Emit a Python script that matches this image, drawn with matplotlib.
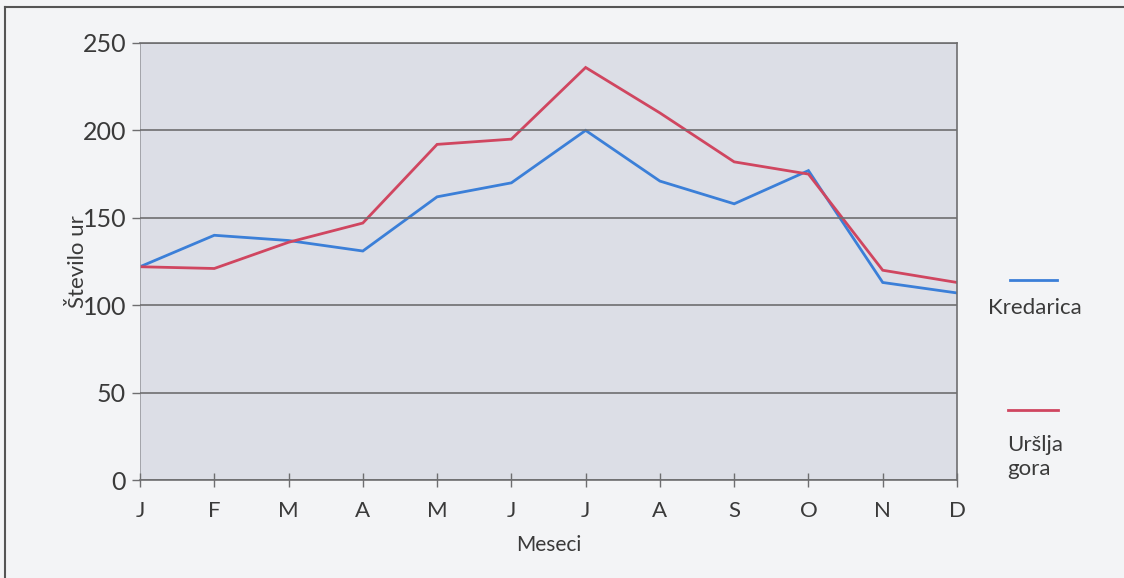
import matplotlib
matplotlib.use("Agg")
import matplotlib.pyplot as plt
from matplotlib.lines import Line2D

months = ["J", "F", "M", "A", "M", "J", "J", "A", "S", "O", "N", "D"]
kredarica = [122, 140, 137, 131, 162, 170, 200, 171, 158, 177, 113, 107]
ursljagora = [122, 121, 136, 147, 192, 195, 236, 210, 182, 175, 120, 113]
yticks = [0, 50, 100, 150, 200, 250]

plt.rcParams['font.family'] = ['Lato', 'DejaVu Sans']
txt = '#3a3a3a'

fig = plt.figure(figsize=(11.24, 5.78), dpi=100)
fig.patch.set_facecolor('#f3f4f6')
ax = fig.add_axes([140/1124, 1 - 480/578, (957-140)/1124, (480-43)/578])
ax.set_facecolor('#dcdee6')

x = list(range(len(months)))
ax.plot(x, kredarica, color='#3b7fd8', lw=2.0, solid_joinstyle='miter')
ax.plot(x, ursljagora, color='#d04660', lw=2.0, solid_joinstyle='miter')

ax.set_xlim(0, 11)
ax.set_ylim(0, 250)
ax.set_yticks(yticks)
ax.set_yticklabels([str(v) for v in yticks], fontsize=18, color=txt)
ax.set_xticks(x)
ax.set_xticklabels(months, fontsize=16, color=txt)
ax.yaxis.grid(True, color='#6e6e70', lw=1.2)
ax.set_axisbelow(False)
ax.tick_params(axis='y', length=6, width=1, color='#6e6e70', pad=4)
ax.tick_params(axis='x', direction='inout', length=10, width=1, color='#6e6e70', pad=10)
for s in ['left', 'right', 'top', 'bottom']:
    ax.spines[s].set_color('#6e6e70')
    ax.spines[s].set_linewidth(1.2)
ax.spines['left'].set_linewidth(0.6)
ax.spines['left'].set_color('#9a9aa0')

ax.set_xlabel('Meseci', fontsize=15, color=txt, labelpad=10)
ax.set_ylabel('Število ur', fontsize=16, color=txt, labelpad=-4)

# legend drawn beside the plot
fig.add_artist(Line2D([1010/1124, 1057/1124], [1 - 280/578] * 2, color='#3b7fd8', lw=2.0))
fig.text(988/1124, 1 - 308/578, 'Kredarica', fontsize=16, color=txt, va='center', ha='left')
fig.add_artist(Line2D([1008/1124, 1058/1124], [1 - 410/578] * 2, color='#d04660', lw=2.0))
fig.text(1007/1124, 1 - 457/578, 'Uršlja\ngora', fontsize=16, color=txt, va='center', ha='left',
         linespacing=1.3)

# outer frame lines
fig.add_artist(Line2D([5/1124, 1], [1 - 7/578] * 2, color='#555555', lw=1.5))
fig.add_artist(Line2D([5/1124] * 2, [0, 1 - 7/578], color='#555555', lw=1.5))

fig.savefig('out.png', dpi=100, facecolor=fig.get_facecolor())
